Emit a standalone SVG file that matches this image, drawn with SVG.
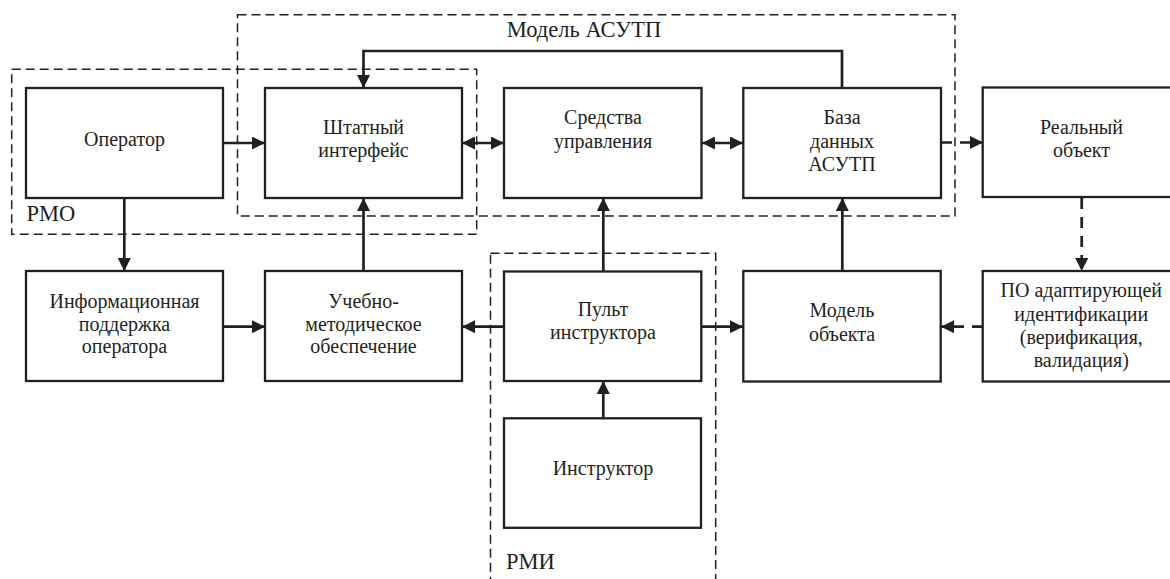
<svg xmlns="http://www.w3.org/2000/svg" width="1170" height="579" viewBox="0 0 1170 579">
<style>
.box{fill:#fff;stroke:#231f20;stroke-width:2.3}
.grp{fill:none;stroke:#231f20;stroke-width:1.5;stroke-dasharray:9 5}
.c{fill:none;stroke:#231f20;stroke-width:2.7}
.d{stroke-dasharray:11 8}
.t{font-size:20px;fill:#231f20;text-anchor:middle}
.lbl{font-size:22.5px;fill:#231f20;text-anchor:start}
.mid{text-anchor:middle}
</style>
<defs>
<marker id="ah" viewBox="0 0 13 13" refX="13" refY="6.5" markerWidth="13" markerHeight="13" markerUnits="userSpaceOnUse" orient="auto-start-reverse">
<path d="M0,0 L13,6.5 L0,13 Z" fill="#231f20"/>
</marker>
</defs>
<rect width="1170" height="579" fill="#fff"/>
<g font-family="Liberation Serif, 'Times New Roman', serif">
<g id="group-asutp">
<rect class="grp" x="237.5" y="14.7" width="717.5" height="201.3"/>
<text class="lbl mid" x="584" y="36.5">Модель АСУТП</text>
</g>
<g id="group-rmo">
<rect class="grp" x="11.7" y="69.3" width="465" height="165"/>
<text class="lbl" x="26.5" y="221">РМО</text>
</g>
<g id="group-rmi">
<rect class="grp" x="490.5" y="253.3" width="225.2" height="340"/>
<text class="lbl" x="506" y="568.5">РМИ</text>
</g>

<g id="connectors">
<line class="c" x1="223" y1="143" x2="265" y2="143" marker-end="url(#ah)"/>
<line class="c" x1="462" y1="143" x2="504" y2="143" marker-start="url(#ah)" marker-end="url(#ah)"/>
<line class="c" x1="702" y1="143" x2="743" y2="143" marker-start="url(#ah)" marker-end="url(#ah)"/>
<line class="c d" x1="941" y1="142.5" x2="983" y2="142.5" marker-end="url(#ah)"/>
<polyline class="c" points="842,88 842,51 363.5,51 363.5,88" marker-end="url(#ah)"/>
<line class="c" x1="124.3" y1="198" x2="124.3" y2="271" marker-end="url(#ah)"/>
<line class="c" x1="223" y1="326.7" x2="265" y2="326.7" marker-end="url(#ah)"/>
<line class="c" x1="363.5" y1="271" x2="363.5" y2="198" marker-end="url(#ah)"/>
<line class="c" x1="504" y1="326.7" x2="462" y2="326.7" marker-end="url(#ah)"/>
<line class="c" x1="603.3" y1="271" x2="603.3" y2="198" marker-end="url(#ah)"/>
<line class="c" x1="701" y1="326.7" x2="743" y2="326.7" marker-end="url(#ah)"/>
<line class="c" x1="842.3" y1="271" x2="842.3" y2="198" marker-end="url(#ah)"/>
<line class="c d" x1="1081.7" y1="198" x2="1081.7" y2="271" marker-end="url(#ah)"/>
<line class="c d" x1="983" y1="326.7" x2="941" y2="326.7" marker-end="url(#ah)"/>
<line class="c" x1="603.3" y1="418" x2="603.3" y2="381" marker-end="url(#ah)"/>
</g>

<g id="operator">
<rect class="box" x="26" y="88" width="197" height="110"/>
<text class="t" x="124.5" y="146">Оператор</text>
</g>
<g id="shtatny">
<rect class="box" x="265" y="88" width="197" height="110"/>
<text class="t" x="363.5" y="134">Штатный</text>
<text class="t" x="363.5" y="157">интерфейс</text>
</g>
<g id="sredstva">
<rect class="box" x="504" y="88" width="197.5" height="110"/>
<text class="t" x="603" y="124">Средства</text>
<text class="t" x="603" y="147.5">управления</text>
</g>
<g id="baza">
<rect class="box" x="743.3" y="88" width="197.7" height="110"/>
<text class="t" x="842" y="124.3">База</text>
<text class="t" x="842" y="147.7">данных</text>
<text class="t" x="842" y="170.7">АСУТП</text>
</g>
<g id="realny">
<rect class="box" x="982.7" y="87.5" width="197" height="109.5"/>
<text class="t" x="1081.5" y="133.5">Реальный</text>
<text class="t" x="1081.5" y="156.7">объект</text>
</g>
<g id="info">
<rect class="box" x="26" y="271" width="197" height="110"/>
<text class="t" x="124.5" y="308.3">Информационная</text>
<text class="t" x="124.5" y="330.8">поддержка</text>
<text class="t" x="124.5" y="353.3">оператора</text>
</g>
<g id="uchebno">
<rect class="box" x="265" y="271" width="197" height="110"/>
<text class="t" x="363.5" y="308.3">Учебно-</text>
<text class="t" x="363.5" y="330.8">методическое</text>
<text class="t" x="363.5" y="353.3">обеспечение</text>
</g>
<g id="pult">
<rect class="box" x="504" y="271.5" width="197.3" height="109.5"/>
<text class="t" x="603" y="315.5">Пульт</text>
<text class="t" x="603" y="338.5">инструктора</text>
</g>
<g id="model">
<rect class="box" x="743.3" y="271" width="197.4" height="110.5"/>
<text class="t" x="842" y="317">Модель</text>
<text class="t" x="842" y="340.5">объекта</text>
</g>
<g id="po">
<rect class="box" x="982.7" y="271" width="197" height="110.5"/>
<text class="t" x="1081.3" y="297">ПО адаптирующей</text>
<text class="t" x="1081.3" y="320.5">идентификации</text>
<text class="t" x="1081.3" y="343.5">(верификация,</text>
<text class="t" x="1081.3" y="366.7">валидация)</text>
</g>
<g id="instruktor">
<rect class="box" x="504" y="418.3" width="197" height="109.5"/>
<text class="t" x="603" y="475">Инструктор</text>
</g>
</g>
</svg>
